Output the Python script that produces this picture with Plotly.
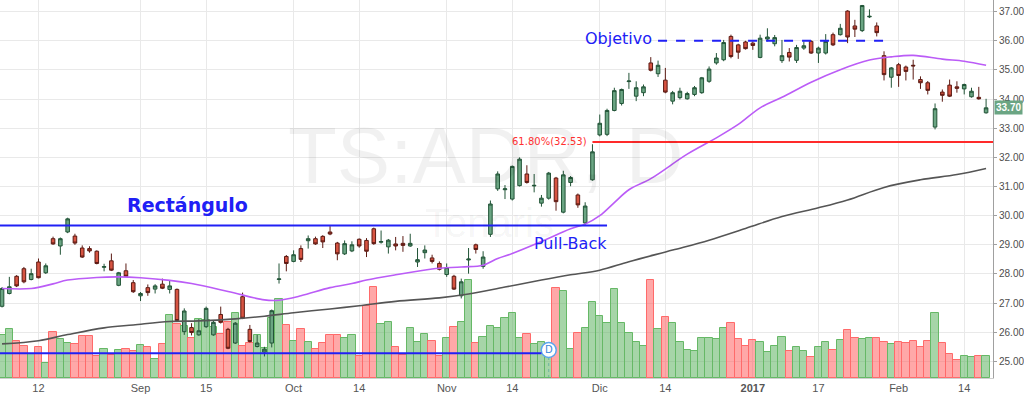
import pandas as pd
import plotly.graph_objects as go

# ---------------- data ----------------
HOLIDAYS = ["2016-09-05", "2016-11-24", "2016-12-26", "2017-01-02", "2017-01-16"]
dates = [d.strftime("%Y-%m-%d") for d in pd.bdate_range("2016-08-05", "2017-02-17")
         if d.strftime("%Y-%m-%d") not in HOLIDAYS]

open_ = [26.89, 27.33, 27.92, 28.18, 27.81,
         28.41, 28.04, 29.21, 28.96, 29.44, 29.30, 28.89, 28.87, 28.78, 28.23,
         28.45, 27.61, 28.11, 27.70, 27.25, 27.53, 27.48, 27.65, 27.47, 27.47,
         26.02, 26.16, 25.91, 26.19, 25.91, 26.61, 26.10, 25.63, 27.22, 26.10,
         25.51, 25.32, 25.63, 27.81, 28.60, 28.43, 28.87, 29.14, 29.21, 29.29,
         29.44, 29.06, 28.69, 28.79, 29.19, 29.15, 29.55, 29.09, 28.93, 29.03,
         29.05, 28.96, 28.41, 28.73, 28.55, 28.36, 27.98, 27.92, 27.25, 28.48,
         29.00, 28.26, 29.36, 30.92, 30.89, 30.57, 31.03, 31.43, 31.02, 30.43,
         30.60, 31.29, 30.12, 31.14, 30.71, 29.75, 31.23, 32.77, 32.79, 33.61,
         33.85, 34.60, 34.10, 34.22, 35.24, 34.87, 34.65, 33.93, 34.05, 34.01,
         34.16, 34.22, 34.61, 35.24, 35.35, 36.15, 35.86, 35.96, 35.92, 35.43,
         36.06, 35.90, 35.32, 35.60, 35.33, 35.75, 35.98, 35.58, 35.58, 36.21,
         36.21, 37.02, 36.51, 36.35, 36.82, 36.51, 35.49, 34.75, 35.18, 35.10,
         35.16, 34.67, 34.56, 33.04, 34.24, 34.48, 34.42, 34.35, 34.08, 34.06, 33.53]
high = [27.55, 27.90, 27.96, 28.24, 28.18,
        28.53, 28.36, 29.28, 29.25, 29.93, 29.38, 28.98, 28.95, 28.81, 28.35,
        28.70, 28.07, 28.36, 27.79, 27.38, 27.64, 27.65, 27.84, 27.79, 27.50,
        26.82, 26.31, 26.45, 26.88, 26.42, 26.88, 26.15, 26.35, 27.36, 26.25,
        25.91, 25.50, 26.78, 28.36, 28.65, 28.81, 28.98, 29.32, 29.28, 29.33,
        29.64, 29.10, 29.15, 29.12, 29.22, 29.23, 29.59, 29.49, 29.20, 29.27,
        29.30, 29.38, 28.89, 28.98, 28.66, 28.43, 28.36, 27.97, 27.84, 28.89,
        29.04, 28.78, 30.52, 31.52, 31.05, 31.72, 32.00, 31.73, 31.43, 30.71,
        31.50, 31.33, 31.54, 31.36, 30.76, 30.46, 32.45, 33.47, 33.67, 34.39,
        34.36, 34.90, 34.61, 34.50, 35.44, 35.32, 35.07, 34.28, 34.39, 34.25,
        34.45, 34.76, 35.12, 35.58, 36.03, 36.21, 35.90, 36.00, 35.98, 36.21,
        36.43, 36.20, 36.03, 35.75, 35.86, 35.98, 36.02, 35.80, 36.23, 36.28,
        36.58, 37.05, 36.72, 37.23, 37.08, 36.63, 35.64, 35.10, 35.24, 35.15,
        35.35, 34.78, 34.62, 33.85, 34.33, 34.67, 34.61, 34.53, 34.39, 34.42, 34.01]
low = [26.85, 27.30, 27.55, 27.68, 27.78,
       27.85, 28.00, 29.00, 28.66, 29.40, 29.00, 28.55, 28.73, 28.33, 28.09,
       28.10, 27.58, 27.90, 27.35, 27.07, 27.25, 27.33, 27.48, 27.33, 26.35,
       25.91, 25.89, 25.88, 26.15, 25.88, 26.30, 25.42, 25.60, 26.45, 25.65,
       25.48, 25.17, 25.48, 27.67, 28.09, 28.40, 28.41, 28.87, 29.00, 28.89,
       29.33, 28.47, 28.65, 28.75, 28.90, 28.58, 29.00, 29.04, 28.70, 28.81,
       28.76, 28.93, 28.24, 28.53, 28.36, 28.12, 27.90, 27.45, 27.16, 28.01,
       28.70, 28.18, 29.27, 30.85, 30.57, 30.52, 31.00, 31.10, 30.80, 30.31,
       30.55, 30.17, 30.08, 31.01, 30.27, 29.69, 31.20, 32.72, 32.73, 33.58,
       33.78, 34.35, 33.93, 34.10, 34.95, 34.76, 34.20, 33.82, 33.99, 33.98,
       34.10, 34.18, 34.56, 35.18, 35.30, 35.40, 35.38, 35.70, 35.69, 35.40,
       35.98, 35.81, 35.24, 35.29, 35.24, 35.69, 35.55, 35.24, 35.53, 35.82,
       36.18, 35.92, 36.13, 36.30, 36.78, 36.15, 34.64, 34.39, 34.42, 34.64,
       34.67, 34.35, 34.16, 32.96, 33.91, 34.07, 34.22, 34.16, 34.05, 33.98, 33.50]
close = [27.50, 27.56, 27.59, 27.73, 28.01,
         27.87, 28.28, 29.03, 29.21, 29.89, 29.06, 28.58, 28.79, 28.36, 28.25,
         28.13, 28.04, 27.92, 27.39, 27.33, 27.36, 27.59, 27.51, 27.59, 26.40,
         26.73, 25.99, 26.05, 26.82, 26.34, 26.34, 25.45, 26.31, 26.48, 25.68,
         25.63, 25.42, 26.74, 27.83, 28.36, 28.66, 28.50, 29.21, 29.03, 29.10,
         29.37, 28.69, 29.04, 29.00, 28.96, 28.78, 29.04, 29.11, 29.16, 28.96,
         28.98, 29.05, 28.49, 28.82, 28.43, 28.16, 28.22, 27.48, 27.73, 28.51,
         28.84, 28.58, 30.40, 31.43, 30.92, 31.69, 31.94, 31.14, 31.04, 30.60,
         31.46, 30.48, 31.40, 31.31, 30.37, 30.33, 32.19, 33.17, 33.61, 34.29,
         34.33, 34.62, 34.39, 34.42, 34.99, 35.16, 34.24, 34.22, 34.27, 34.19,
         34.39, 34.73, 35.03, 35.41, 35.94, 35.46, 35.61, 35.73, 35.84, 36.09,
         36.13, 36.11, 35.49, 35.44, 35.77, 35.83, 35.58, 35.75, 35.98, 35.86,
         36.43, 36.13, 36.40, 37.21, 36.84, 36.28, 34.84, 35.07, 34.81, 34.95,
         35.14, 34.56, 34.30, 33.67, 34.13, 34.10, 34.37, 34.50, 34.27, 34.01, 33.70]
volume = [1300, 1470, 1130, 980, 730,
          930, 450, 1400, 1170, 1070, 1020, 1260, 1260, 660, 870,
          690, 850, 870, 820, 1000, 930, 570, 1020, 1900, 1620,
          1560, 1220, 1770, 1750, 1550, 1320, 1700, 1970, 970, 1070,
          1300, 900, 1820, 2380, 1600, 1130, 1470, 1100, 880, 1070,
          1290, 1290, 1200, 1300, 660, 2170, 2730, 1620, 1680, 920,
          690, 1500, 1100, 1340, 1130, 660, 1220, 1550, 1700, 2970,
          1050, 1250, 1570, 1500, 1800, 1970, 1200, 1320, 1020, 1080,
          900, 2720, 2630, 870, 1350, 1500, 2300, 1880, 1650, 2670,
          1650, 1370, 1100, 980, 2950, 1470, 1830, 1650, 1080, 850,
          820, 1220, 1220, 1180, 1520, 1670, 1180, 980, 1160, 1080,
          780, 980, 1250, 800, 950, 800, 620, 920, 1080, 850,
          1150, 1450, 1200, 1180, 1200, 1200, 1100, 1020, 1080, 1050,
          1120, 920, 1120, 1950, 1050, 730, 530, 650, 620, 650, 650]

ma_fast_dates = ["2016-08-05", "2016-08-11", "2016-08-16", "2016-08-18", "2016-08-24", "2016-08-29",
                 "2016-09-01", "2016-09-08", "2016-09-13", "2016-09-20", "2016-09-27", "2016-09-29",
                 "2016-10-04", "2016-10-10", "2016-10-13", "2016-10-17", "2016-10-21", "2016-10-28",
                 "2016-11-03", "2016-11-08", "2016-11-10", "2016-11-14", "2016-11-18", "2016-11-25",
                 "2016-11-29", "2016-12-01", "2016-12-05", "2016-12-07", "2016-12-12", "2016-12-19",
                 "2016-12-23", "2016-12-29", "2017-01-04", "2017-01-09", "2017-01-13", "2017-01-20",
                 "2017-01-26", "2017-01-31", "2017-02-03", "2017-02-09", "2017-02-14", "2017-02-17"]
ma_fast = [27.50, 27.50, 27.66, 27.79, 27.88, 27.90,
           27.87, 27.78, 27.67, 27.40, 27.11, 27.10,
           27.25, 27.53, 27.67, 27.79, 27.97, 28.17,
           28.24, 28.30, 28.53, 28.70, 29.11, 29.55,
           29.71, 30.00, 30.45, 30.89, 31.27, 32.11,
           32.67, 33.13, 33.70, 34.06, 34.58, 35.01,
           35.34, 35.45, 35.50, 35.37, 35.30, 35.16]

ma_slow_dates = ["2016-08-05", "2016-08-12", "2016-08-18", "2016-08-25", "2016-08-31", "2016-09-08",
                 "2016-09-14", "2016-09-21", "2016-09-27", "2016-10-03", "2016-10-10", "2016-10-14",
                 "2016-10-21", "2016-10-31", "2016-11-04", "2016-11-11", "2016-11-18", "2016-11-25",
                 "2016-12-01", "2016-12-07", "2016-12-15", "2016-12-22", "2016-12-30", "2017-01-09",
                 "2017-01-17", "2017-01-23", "2017-01-30", "2017-02-06", "2017-02-13", "2017-02-17"]
ma_slow = [25.60, 25.71, 25.92, 26.15, 26.25, 26.37,
           26.39, 26.46, 26.55, 26.67, 26.80, 26.91,
           27.06, 27.18, 27.31, 27.55, 27.79, 27.97,
           28.13, 28.42, 28.82, 29.16, 29.56, 29.97,
           30.27, 30.54, 30.97, 31.23, 31.41, 31.62]

tick_dates = ["2016-08-12", "2016-09-01", "2016-09-15", "2016-10-03", "2016-10-14", "2016-11-01",
              "2016-11-14", "2016-12-01", "2016-12-14", "2017-01-03", "2017-01-17", "2017-02-01",
              "2017-02-14"]
tick_text = ["12", "Sep", "15", "Oct", "14", "Nov", "14", "Dic", "14", "<b>2017</b>", "17", "Feb", "14"]
price_ticks = [25, 26, 27, 28, 29, 30, 31, 32, 33, 34, 35, 36, 37]

RECT_TOP = 29.66
RECT_BOTTOM = 25.28
TARGET = 36.00
FIB_LEVEL = 32.53
D_LEVEL = 25.39
LAST = close[-1]

# ---------------- styling ----------------
UP, DOWN = "#6ba583", "#d75442"
UP_LINE, DOWN_LINE = "#225437", "#5b1a13"
BLUE = "#2020f5"
XMIN, XMAX = -0.28, 135.95
PMIN, PMAX = 24.43, 37.40
VMAX = 11400

vol_fill = ["rgba(92,178,96,0.55)" if c >= o else "rgba(255,96,96,0.55)" for o, c in zip(open_, close)]
vol_line = ["#66b866" if c >= o else "#ff6a6a" for o, c in zip(open_, close)]

fig = go.Figure()
fig.add_trace(go.Bar(x=dates, y=volume, marker=dict(color=vol_fill, line=dict(color=vol_line, width=1)),
                     xaxis="x", yaxis="y", hoverinfo="skip"))
fig.add_trace(go.Candlestick(x=dates, open=open_, high=high, low=low, close=close,
                             increasing=dict(fillcolor=UP, line=dict(color=UP_LINE, width=1)),
                             decreasing=dict(fillcolor=DOWN, line=dict(color=DOWN_LINE, width=1)),
                             xaxis="x", yaxis="y2"))
fig.add_trace(go.Scatter(x=ma_slow_dates, y=ma_slow, mode="lines", line=dict(color="#555555", width=1.6, shape="spline"),
                         xaxis="x", yaxis="y2"))
fig.add_trace(go.Scatter(x=ma_fast_dates, y=ma_fast, mode="lines", line=dict(color="#bb5cf7", width=1.6, shape="spline"),
                         xaxis="x", yaxis="y2"))
fig.add_trace(go.Scatter(x=["2016-11-21"], y=[D_LEVEL], mode="markers+text", text=["D"],
                         textposition="middle center",
                         textfont=dict(family="DejaVu Sans", size=10, color="#3a86d8"),
                         marker=dict(size=15, color="white", line=dict(color="#5aa5ee", width=1.5)),
                         xaxis="x", yaxis="y2"))

shapes = [
    dict(type="line", xref="x", yref="y2", x0=XMIN, x1="2016-12-02", y0=RECT_TOP, y1=RECT_TOP,
         line=dict(color=BLUE, width=2)),
    dict(type="line", xref="x", yref="y2", x0=XMIN, x1="2016-11-18", y0=RECT_BOTTOM, y1=RECT_BOTTOM,
         line=dict(color=BLUE, width=2)),
    dict(type="line", xref="x", yref="y2", x0="2016-12-13", x1="2017-01-30", y0=TARGET, y1=TARGET,
         line=dict(color=BLUE, width=2, dash="dash")),
    dict(type="line", xref="x", yref="y2", x0="2016-11-30", x1=XMAX, y0=FIB_LEVEL, y1=FIB_LEVEL,
         line=dict(color="#ff2a2a", width=2)),
    dict(type="line", xref="x", yref="y2", x0="2016-11-21", x1="2016-11-21", y0=PMIN, y1=D_LEVEL - 0.24,
         line=dict(color="#7fb6ee", width=1, dash="dot"), layer="below"),
]

annotations = [
    dict(text="TS:ADR, D", x="2016-11-08", xshift=3, y=32.08, xref="x", yref="y2", showarrow=False,
         font=dict(family="Liberation Sans", size=80, color="rgba(0,0,0,0.055)")),
    dict(text="Tenaris", x="2016-11-08", xshift=6, y=29.75, xref="x", yref="y2", showarrow=False,
         font=dict(family="Liberation Sans", size=40, color="rgba(0,0,0,0.055)")),
    dict(text="<b>Rectángulo</b>", x="2016-09-12", xshift=3, y=30.37, xref="x", yref="y2", showarrow=False,
         font=dict(family="DejaVu Sans", size=19, color=BLUE)),
    dict(text="Pull-Back", x="2016-11-25", y=29.04, xref="x", yref="y2", showarrow=False,
         font=dict(family="DejaVu Sans", size=16, color=BLUE)),
    dict(text="Objetivo", x="2016-12-05", xshift=4, y=36.07, xref="x", yref="y2", showarrow=False,
         font=dict(family="DejaVu Sans", size=16, color=BLUE)),
    dict(text="61.80%(32.53)", x="2016-11-30", xshift=-3, xanchor="right", y=FIB_LEVEL, xref="x", yref="y2",
         showarrow=False, font=dict(family="DejaVu Sans", size=10, color="#ff3030")),
    dict(text="<b>%.2f</b>" % LAST, x=1, xref="paper", xanchor="left", xshift=1, y=LAST, yref="y2",
         showarrow=False, bgcolor=UP, borderpad=1,
         font=dict(family="Liberation Sans", size=10, color="white")),
]

fig.update_layout(
    width=1024, height=394, margin=dict(l=0, r=31, t=0, b=14),
    plot_bgcolor="white", paper_bgcolor="white", showlegend=False,
    bargap=0, shapes=shapes, annotations=annotations,
    font=dict(family="Liberation Sans", size=11, color="#4d4d4d"),
    xaxis=dict(type="category", categoryorder="array", categoryarray=dates, range=[XMIN, XMAX],
               tickmode="array", tickvals=tick_dates, ticktext=tick_text,
               showgrid=True, gridcolor="#e9e9e9", gridwidth=1, ticks="",
               showline=True, linecolor="#cfcfcf", rangeslider=dict(visible=False),
               tickfont=dict(size=11, color="#555555")),
    yaxis=dict(range=[0, VMAX], visible=False, showgrid=False, fixedrange=True),
    yaxis2=dict(overlaying="y", side="right", range=[PMIN, PMAX],
                tickmode="array", tickvals=price_ticks, ticktext=["%.2f" % v for v in price_ticks],
                showgrid=True, gridcolor="#e9e9e9", zeroline=False, showline=True, linecolor="#a0a0a0",
                ticks="outside", ticklen=3, tickcolor="#a0a0a0",
                tickfont=dict(size=10, color="#4d4d4d")),
)

fig.write_html("out.html", config={"displayModeBar": False},
               post_script="document.body.style.margin='0';document.body.style.overflow='hidden';")
